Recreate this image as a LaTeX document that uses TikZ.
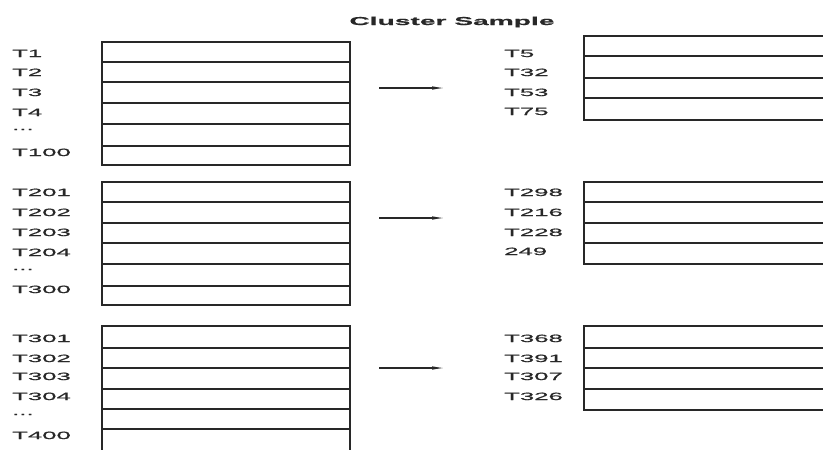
\documentclass[tikz,border=0pt]{standalone}
\usepackage{fontspec}
\usepackage{tikz}
\usetikzlibrary{positioning,arrows.meta}
\newfontfamily\widefont[FakeStretch=2.45,FakeBold=0.7]{Liberation Sans}
\definecolor{ink}{RGB}{40,40,40}

\tikzset{
  tlabel/.style={anchor=base west,inner sep=0pt,font=\widefont\fontsize{10.5}{12}\selectfont,text=ink},
  tbox/.style={draw=ink,line width=1.2pt,anchor=north west,inner sep=0pt,outer sep=0pt},
  rowline/.style={draw=ink,line width=1.2pt},
  samplearrow/.style={draw=ink,line width=1.1pt,-{Latex[length=13pt,width=3.5pt]}}
}

\begin{document}
\begin{tikzpicture}[x=1pt,y=-1pt]
\useasboundingbox (0,0) rectangle (823,450);
\clip (0,0) rectangle (823,450);

\node[anchor=base,inner sep=0pt,font=\widefont\bfseries\fontsize{11.5}{13}\selectfont,text=ink] (title) at (452,25) {Cluster Sample};

% cluster 1
\node[tbox,minimum width=248pt,minimum height=123pt] (L1) at (102,42) {};
\foreach \y in {62,82,103,124,146} \draw[rowline] (L1.west |- 0,\y) -- (L1.east |- 0,\y);
\node[tlabel] (l11) at (12,57) {T1};
\node[tlabel] (l12) at (12,76) {T2};
\node[tlabel] (l13) at (12,96) {T3};
\node[tlabel] (l14) at (12,116) {T4};
\node[tlabel] (l15) at (12,130) {...};
\node[tlabel] (l16) at (12,156) {T100};

\node[tbox,minimum width=256pt,minimum height=84pt] (R1) at (584,36) {};
\foreach \y in {56,78,98} \draw[rowline] (R1.west |- 0,\y) -- (R1.east |- 0,\y);
\node[tlabel] (r11) at (504,57) {T5};
\node[tlabel] (r12) at (504,76) {T32};
\node[tlabel] (r13) at (504,96) {T53};
\node[tlabel] (r14) at (504,115) {T75};

\coordinate (a1s) at (379,88);
\coordinate (a1e) at (445,88);
\draw[samplearrow] (a1s) -- (a1e);

% cluster 2
\node[tbox,minimum width=248pt,minimum height=123pt] (L2) at (102,182) {};
\foreach \y in {202,223,243,264,286} \draw[rowline] (L2.west |- 0,\y) -- (L2.east |- 0,\y);
\node[tlabel] (l21) at (12,196) {T201};
\node[tlabel] (l22) at (12,216) {T202};
\node[tlabel] (l23) at (12,236) {T203};
\node[tlabel] (l24) at (12,256) {T204};
\node[tlabel] (l25) at (12,270) {...};
\node[tlabel] (l26) at (12,293) {T300};

\node[tbox,minimum width=256pt,minimum height=82pt] (R2) at (584,182) {};
\foreach \y in {202,223,243} \draw[rowline] (R2.west |- 0,\y) -- (R2.east |- 0,\y);
\node[tlabel] (r21) at (504,196) {T298};
\node[tlabel] (r22) at (504,216) {T216};
\node[tlabel] (r23) at (504,236) {T228};
\node[tlabel] (r24) at (504,255) {249};

\coordinate (a2s) at (379,218);
\coordinate (a2e) at (445,218);
\draw[samplearrow] (a2s) -- (a2e);

% cluster 3
\node[tbox,minimum width=248pt,minimum height=134pt] (L3) at (102,326) {};
\foreach \y in {348,368,389,409,429} \draw[rowline] (L3.west |- 0,\y) -- (L3.east |- 0,\y);
\node[tlabel] (l31) at (12,342) {T301};
\node[tlabel] (l32) at (12,362) {T302};
\node[tlabel] (l33) at (12,380) {T303};
\node[tlabel] (l34) at (12,400) {T304};
\node[tlabel] (l35) at (12,415) {...};
\node[tlabel] (l36) at (12,439) {T400};

\node[tbox,minimum width=256pt,minimum height=84pt] (R3) at (584,326) {};
\foreach \y in {348,368,389} \draw[rowline] (R3.west |- 0,\y) -- (R3.east |- 0,\y);
\node[tlabel] (r31) at (504,342) {T368};
\node[tlabel] (r32) at (504,362) {T391};
\node[tlabel] (r33) at (504,380) {T307};
\node[tlabel] (r34) at (504,400) {T326};

\coordinate (a3s) at (379,368);
\coordinate (a3e) at (445,368);
\draw[samplearrow] (a3s) -- (a3e);
\end{tikzpicture}
\end{document}
